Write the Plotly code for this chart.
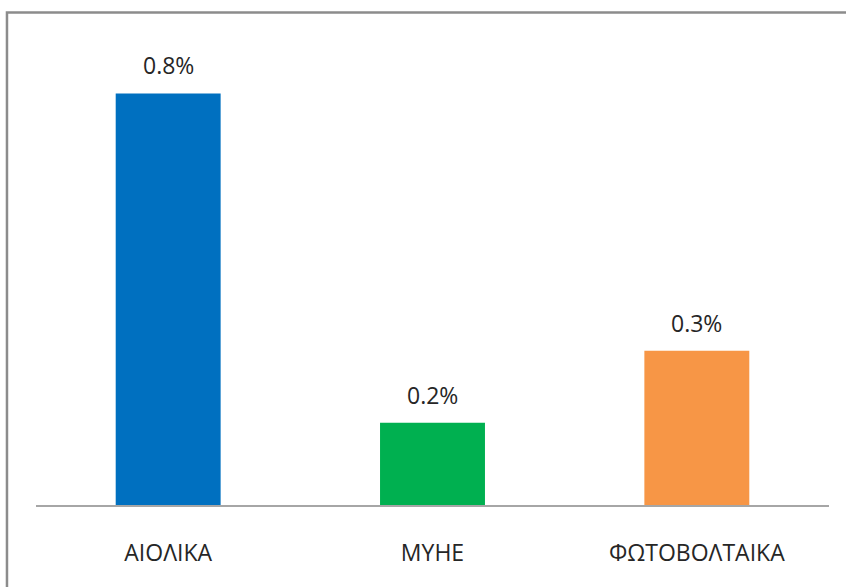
import plotly.graph_objects as go

# shares by source (percent)
categories = ['ΑΙΟΛΙΚΑ', 'ΜΥΗΕ', 'ΦΩΤΟΒΟΛΤΑΙΚΑ']
values = [0.80, 0.16, 0.30]
colors = ['#0070C0', '#00B050', '#F79646']

fig = go.Figure(go.Bar(x=categories, y=values, marker_color=colors,
                       marker_line_width=0, hoverinfo='skip'))

# value labels above the bars
for cat, val in zip(categories, values):
    fig.add_annotation(x=cat, y=val, text=f'{val:.1f}%', showarrow=False,
                       yanchor='bottom', yshift=10,
                       font=dict(size=23, color='#262626'))

# chart frame (extends past the right/bottom edges of the picture)
fig.add_shape(type='rect', xref='paper', yref='paper',
              x0=-0.0366, x1=1.2, y0=-0.3, y1=1.0636,
              line=dict(color='#8c8c8c', width=2.5), layer='above')

fig.update_layout(
    width=846, height=587,
    margin=dict(l=36, r=17, t=41.5, b=82),
    paper_bgcolor='white', plot_bgcolor='white',
    bargap=0.603, showlegend=False,
    font=dict(family='Open Sans', color='#262626'),
)
fig.update_xaxes(showline=True, linecolor='#a6a6a6', linewidth=1.5,
                 showgrid=False, ticks='', ticklabelstandoff=27,
                 tickfont=dict(size=23, color='#262626'))
fig.update_yaxes(range=[0, 0.9], visible=False, showgrid=False)

# drop the default page margin so the figure sits at the window's corner
fig.write_html('out.html', config={'displayModeBar': False},
               post_script="document.body.style.margin='0';")
